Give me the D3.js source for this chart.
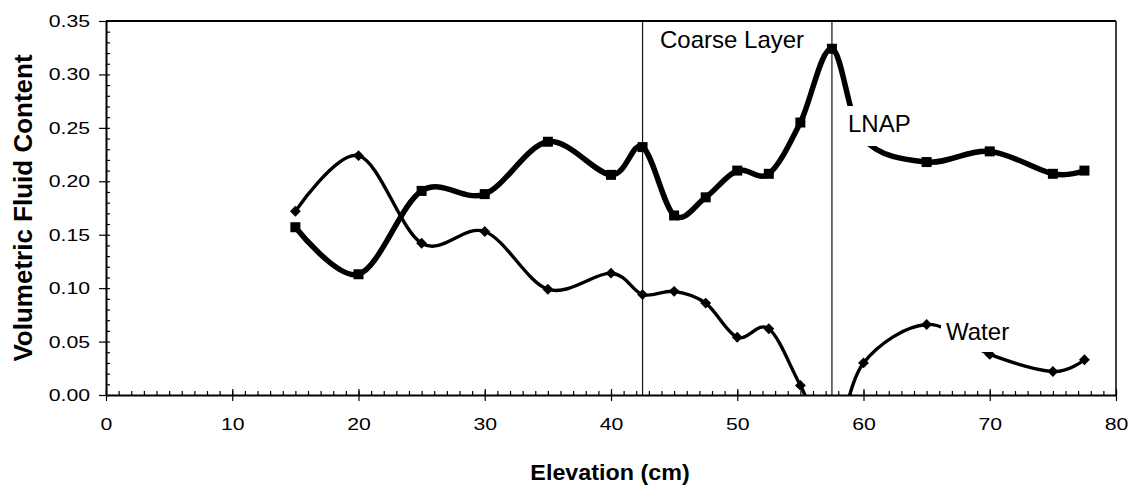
<!DOCTYPE html>
<html><head><meta charset="utf-8">
<script src="https://cdn.jsdelivr.net/npm/d3@7"></script>
<style>
body{margin:0;background:#fff}
text{font-family:Arial,"Liberation Sans",sans-serif;fill:#000}
</style>
</head><body>
<svg id="c" width="1133" height="489"></svg>
<script>
// ---- data ----
const elevation = [15,20,25,30,35,40,42.5,45,47.5,50,52.5,55,57.5,60,65,70,75,77.5];
const lnap  = [0.157,0.113,0.191,0.188,0.237,0.206,0.232,0.168,0.185,0.210,0.207,0.255,0.324,0.240,0.218,0.228,0.207,0.210];
const water = [0.172,0.224,0.142,0.153,0.099,0.114,0.094,0.097,0.086,0.054,0.062,0.009,-0.045,0.030,0.066,0.038,0.022,0.033];
const xTicks = [0,10,20,30,40,50,60,70,80];
const yTicks = [0,0.05,0.10,0.15,0.20,0.25,0.30,0.35];
const layerBounds = [42.5,57.5];
const labels = {x:"Elevation (cm)", y:"Volumetric Fluid Content", layer:"Coarse Layer", lnap:"LNAP", water:"Water"};

// ---- layout ----
const L=106,R=1116,T=21,B=395;
const svg=d3.select("#c");
const x=d3.scaleLinear().domain([0,80]).range([L,R]);
const y=d3.scaleLinear().domain([0,0.35]).range([B,T]);

svg.append("defs").append("clipPath").attr("id","clip")
  .append("rect").attr("x",L).attr("y",T).attr("width",R-L).attr("height",B-T);

// coarse layer boundaries
svg.selectAll("line.layer").data(layerBounds).enter().append("line")
  .attr("x1",d=>x(d)).attr("x2",d=>x(d)).attr("y1",T).attr("y2",B)
  .attr("stroke","#111").attr("stroke-width",1.2);

const g=svg.append("g").attr("clip-path","url(#clip)");
const curve=d3.curveCardinal.tension(0);
const line=d3.line().x((d,i)=>x(elevation[i])).y(d=>y(d)).curve(curve);

g.append("path").datum(water).attr("d",line).attr("fill","none")
  .attr("stroke","#000").attr("stroke-width",3.4);
g.append("path").datum(lnap).attr("d",line).attr("fill","none")
  .attr("stroke","#000").attr("stroke-width",5.5);

// markers
g.selectAll("path.dia").data(water).enter().append("path")
  .attr("d",d3.symbol().type(d3.symbolDiamond2).size(75))
  .attr("transform",(d,i)=>`translate(${x(elevation[i])},${y(d)})`).attr("fill","#000");
g.selectAll("rect.sq").data(lnap).enter().append("rect")
  .attr("x",(d,i)=>x(elevation[i])-5).attr("y",d=>y(d)-5)
  .attr("width",10).attr("height",10).attr("fill","#000");

// label boxes (white fill hides the curve)
function tag(bx,by,bw,bh,tx,ty,txt){
  svg.append("rect").attr("x",bx).attr("y",by).attr("width",bw).attr("height",bh).attr("fill","#fff");
  svg.append("text").attr("x",tx).attr("y",ty).attr("font-size",24).text(txt);
}
tag(845,106,68,40,848,132,labels.lnap);
tag(941,314,74,38,946,340,labels.water);
svg.append("text").attr("x",660).attr("y",48).attr("font-size",24).text(labels.layer);

// border
svg.append("line").attr("x1",L).attr("x2",R).attr("y1",T).attr("y2",T).attr("stroke","#000").attr("stroke-width",2);
svg.append("line").attr("x1",R).attr("x2",R).attr("y1",T).attr("y2",B).attr("stroke","#000").attr("stroke-width",1.5);

// axes
const SX=1.25;
const yMinor=d3.range(0,0.3501,0.01);
svg.append("g").attr("transform",`translate(${L},0)`)
  .call(d3.axisRight(y).tickValues(yMinor).tickSize(4).tickFormat(""))
  .call(a=>a.select(".domain").remove());
const ya=svg.append("g").attr("transform",`translate(${L},0)`)
  .call(d3.axisLeft(y).tickValues(yTicks).tickSize(7).tickSizeOuter(0).tickFormat(d3.format(".2f")));
ya.selectAll("text").attr("font-size",17).attr("font-family","Arial, 'Liberation Sans', sans-serif")
  .attr("x",-16/SX).attr("transform",`scale(${SX},1)`);

const xMinor=d3.range(0,80.01,1);
svg.append("g").attr("transform",`translate(0,${B})`)
  .call(d3.axisTop(x).tickValues(xMinor).tickSize(4).tickFormat(""))
  .call(a=>a.select(".domain").remove());
svg.append("g").attr("transform",`translate(0,${B})`)
  .call(d3.axisTop(x).tickValues(xTicks).tickSize(6).tickFormat(""))
  .call(a=>a.select(".domain").remove());
const xa=svg.append("g").attr("transform",`translate(0,${B})`)
  .call(d3.axisBottom(x).tickValues(xTicks).tickSize(6).tickSizeOuter(0).tickFormat(d3.format("d")));
xa.selectAll("text").attr("font-size",17).attr("font-family","Arial, 'Liberation Sans', sans-serif")
  .attr("y",35).attr("dy",0).attr("x",0).attr("transform",`scale(${SX},1)`);
svg.selectAll(".domain").attr("stroke-width",2);
svg.selectAll(".tick line").attr("stroke-width",1.2);

// axis titles
svg.append("text").attr("transform",`translate(610,480) scale(1.06,1)`)
  .attr("text-anchor","middle").attr("font-size",22).attr("font-weight","bold").text(labels.x);
svg.append("text").attr("transform",`translate(32,${(T+B)/2}) rotate(-90)`)
  .attr("text-anchor","middle").attr("font-size",26).attr("font-weight","bold").text(labels.y);
</script>
</body></html>
